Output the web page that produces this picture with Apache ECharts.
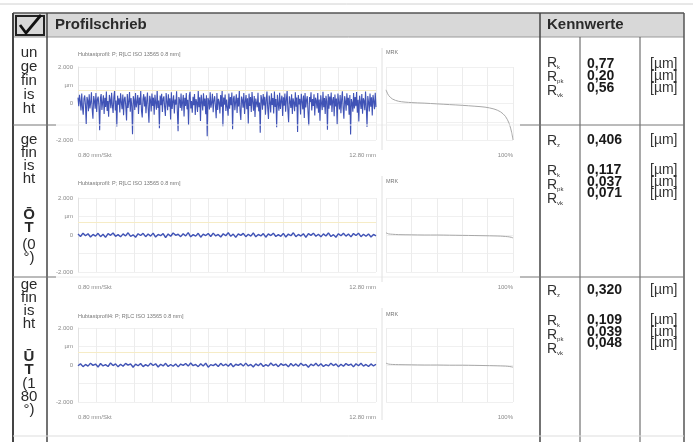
<!DOCTYPE html>
<html><head><meta charset="utf-8">
<script src="https://cdn.jsdelivr.net/npm/echarts@6/dist/echarts.min.js"></script>
<style>html,body{margin:0;padding:0;background:#fff}#c{width:693px;height:442px}</style>
</head><body><div id="c"></div>
<script>
// ---------------- DATA ----------------
const headerLeft = 'Profilschrieb';
const headerRight = 'Kennwerte';
const profileTitles = [
  'Hubtastprofil: P; R[LC ISO 13565 0.8 mm]',
  'Hubtastprofil: P; R[LC ISO 13565 0.8 mm]',
  'Hubtastprofil4: P; R[LC ISO 13565 0.8 mm]'
];
const mrkTitle = 'MRK';
const xStartLabel = '0.80 mm/Skt';
const xEndLabel = '12.80 mm';
const profileLengthMm = 12.8;
const xDivisionMm = 0.8;
const mrkEndLabel = '100%';
const yTickValues = [-2, -1, 0, 1, 2];
const yTickLabels = ['-2.000', '', '0', 'µm', '2.000'];
const refLineValue = 0.7;

const rowLabels1 = ['un', 'ge', 'fin', 'is', 'ht'];
const rowLabels2 = ['ge', 'fin', 'is', 'ht', 'Ō', 'T', '(0', '°)'];
const rowLabels3 = ['ge', 'fin', 'is', 'ht', 'Ū', 'T', '(1', '80', '°)'];

const kwNames1 = ['k', 'pk', 'vk'];
const kwValues1 = ['0,77', '0,20', '0,56'];
const kwNames2 = ['z', 'k', 'pk', 'vk'];
const kwValues2 = ['0,406', '0,117', '0,037', '0,071'];
const kwNames3 = ['z', 'k', 'pk', 'vk'];
const kwValues3 = ['0,320', '0,109', '0,039', '0,048'];
const kwUnit = '[µm]';

const profile1 = [
0.32,-0.15,0.48,0.12,-0.38,0.55,-0.22,-0.61,0.27,0.44,-0.09,-1.12,0.36,0.18,-0.42,0.51,-0.27,0.06,0.62,-0.33,
-0.84,0.41,0.15,-0.29,0.57,-0.46,0.23,0.38,-0.14,-1.47,0.29,0.52,-0.36,0.08,0.45,-0.58,0.31,-0.19,0.66,-0.41,
0.13,-0.73,0.47,0.21,-0.26,0.59,-0.11,-0.52,0.34,0.71,-0.38,0.16,-1.26,0.43,-0.07,0.28,-0.49,0.56,0.09,-0.31,
0.49,-0.64,0.25,0.37,-0.18,-0.93,0.52,-0.24,0.11,0.63,-0.45,0.3,-0.12,-1.68,0.4,0.19,-0.35,0.58,-0.21,0.07,
0.46,-0.57,0.33,-0.08,0.69,-0.4,-0.77,0.24,0.51,-0.16,0.38,-0.53,0.14,0.6,-0.29,-1.05,0.42,0.2,-0.44,0.55,
-0.13,0.32,-0.62,0.48,0.05,-0.34,0.74,-0.25,0.17,-1.35,0.44,-0.1,0.53,-0.47,0.26,0.39,-0.2,-0.68,0.57,0.12,
-0.37,0.5,-0.17,0.28,-0.88,0.61,-0.3,0.1,0.45,-0.55,0.22,-0.06,0.67,-0.43,-1.52,0.35,0.18,-0.24,0.54,-0.39,
0.08,0.47,-0.71,0.31,-0.14,0.58,-0.32,0.2,-1.18,0.43,0.64,-0.27,0.13,-0.5,0.37,-0.09,0.52,-0.63,0.24,0.06,
-0.46,0.7,-0.2,0.34,-0.96,0.48,0.11,-0.38,0.56,-0.15,0.27,-0.59,0.45,-1.8,0.3,0.16,-0.33,0.62,-0.23,0.04,
0.53,-0.48,0.19,0.4,-0.12,-0.81,0.58,-0.35,0.26,0.07,-0.54,0.47,-0.18,0.68,-1.24,0.33,-0.06,0.49,-0.41,0.22,
0.14,-0.67,0.55,-0.28,0.36,-0.1,0.6,-1.41,0.25,0.42,-0.37,0.09,0.5,-0.52,0.31,-0.16,0.73,-0.44,-0.9,0.38,
0.2,-0.23,0.57,-0.58,0.12,0.46,-0.31,0.29,-1.09,0.54,-0.13,0.35,-0.47,0.63,0.08,-0.39,0.41,-0.74,0.27,0.17,
-0.21,0.59,-0.43,0.05,-1.6,0.46,0.23,-0.34,0.52,-0.11,0.37,-0.62,0.18,0.66,-0.26,-0.85,0.44,0.1,-0.49,0.56,
-0.08,0.3,-0.55,0.65,-0.19,0.24,-1.3,0.48,0.02,-0.4,0.59,-0.3,0.15,0.43,-0.69,0.34,-0.12,0.55,-0.45,0.21,
0.68,-0.36,-1.02,0.39,0.13,-0.25,0.51,-0.57,0.28,0.06,-0.42,0.62,-0.17,0.33,-1.56,0.47,-0.05,0.26,-0.6,0.53,
0.11,-0.32,0.44,-0.79,0.58,-0.22,0.19,0.4,-0.48,-1.2,0.35,0.07,0.61,-0.38,0.25,-0.14,0.5,-0.65,0.32,0.16,
-0.27,0.57,-0.51,0.22,-0.95,0.45,0.03,-0.36,0.64,-0.2,0.3,-0.58,0.42,0.12,-1.44,0.52,-0.29,0.38,-0.11,0.6,
-0.46,0.18,0.35,-0.7,0.49,-0.16,0.27,-1.14,0.55,0.09,-0.33,0.46,-0.53,0.21,0.67,-0.24,-0.83,0.4,0.14,-0.39,
0.56,-0.1,0.31,-0.61,0.47,-1.7,0.24,0.05,-0.45,0.58,-0.27,0.36,-0.15,0.63,-0.5,0.2,-0.98,0.43,0.11,-0.3,
0.52,-0.56,0.29,0.15,-0.37,0.65,-0.23,-1.28,0.41,0.08,-0.44,0.54,-0.18,0.34,-0.66,0.47,0.13,-0.31,0.59,-0.2
];
const profile2 = [
0.05,-0.08,0.1,-0.04,0.07,-0.11,0.03,-0.06,0.09,-0.09,0.04,-0.13,0.08,-0.02,0.11,-0.07,0.02,-0.1,0.06,-0.05,
0.12,-0.08,0.01,-0.12,0.07,-0.03,0.09,-0.09,0.05,-0.06,0.1,-0.11,0.03,-0.04,0.08,-0.14,0.06,-0.07,0.11,-0.02,
0.04,-0.09,0.07,-0.05,0.13,-0.1,0.02,-0.06,0.09,-0.12,0.05,-0.03,0.08,-0.08,0.1,-0.05,0.03,-0.11,0.07,-0.04,
0.12,-0.07,0.05,-0.13,0.06,-0.02,0.09,-0.09,0.04,-0.06,0.11,-0.1,0.03,-0.05,0.08,-0.12,0.06,-0.03,0.1,-0.08,
0.02,-0.07,0.09,-0.11,0.05,-0.04,0.12,-0.09,0.03,-0.06,0.07,-0.13,0.08,-0.02,0.1,-0.07,0.04,-0.1,0.06,-0.05,
0.11,-0.08,0.02,-0.12,0.07,-0.04,0.09,-0.06,0.05,-0.1,0.08,-0.03,0.1,-0.09,0.04,-0.07,0.06,-0.11,0.03,-0.05
];
const profile3 = [
-0.04,0.07,-0.09,0.03,-0.06,0.1,-0.02,0.05,-0.11,0.08,-0.05,0.02,-0.08,0.11,-0.03,0.06,-0.1,0.04,-0.07,0.09,
-0.01,0.06,-0.12,0.05,-0.04,0.08,-0.09,0.02,-0.06,0.1,-0.03,0.07,-0.11,0.04,-0.05,0.09,-0.08,0.03,-0.07,0.06,
-0.1,0.05,-0.02,0.08,-0.06,0.11,-0.04,0.03,-0.09,0.07,-0.05,0.1,-0.12,0.02,-0.03,0.06,-0.08,0.09,-0.04,0.05,
-0.07,0.08,-0.1,0.04,-0.02,0.07,-0.06,0.1,-0.05,0.03,-0.11,0.06,-0.04,0.09,-0.08,0.02,-0.06,0.11,-0.03,0.05,
-0.09,0.07,-0.02,0.04,-0.1,0.08,-0.05,0.06,-0.07,0.1,-0.03,0.03,-0.12,0.05,-0.04,0.09,-0.06,0.07,-0.08,0.02,
-0.05,0.1,-0.03,0.06,-0.09,0.04,-0.07,0.08,-0.02,0.05,-0.1,0.07,-0.04,0.09,-0.06,0.03,-0.08,0.06,-0.05,0.04
];
const mrkPct = [0, 2, 5, 10, 20, 30, 40, 50, 60, 70, 78, 85, 90, 94, 97, 99, 100];
const mrk1 = [0.75, 0.45, 0.25, 0.12, 0.05, 0.02, -0.02, -0.06, -0.1, -0.15, -0.2, -0.3, -0.45, -0.7, -1.1, -1.6, -2.0];
const mrk2 = [0.12, 0.06, 0.04, 0.02, 0.01, 0, 0, -0.01, -0.02, -0.03, -0.04, -0.05, -0.06, -0.08, -0.1, -0.13, -0.16];
const mrk3 = [0.1, 0.05, 0.03, 0.02, 0.01, 0, 0, -0.01, -0.01, -0.02, -0.03, -0.04, -0.05, -0.06, -0.08, -0.1, -0.12];

// ---------------- LAYOUT ----------------
const FONT = '"Liberation Sans", Arial, sans-serif';
const profiles = [profile1, profile2, profile3];
const mrks = [mrk1, mrk2, mrk3];
const rowGrid = [ {top: 67, bottom: 140}, {top: 198, bottom: 272}, {top: 328, bottom: 402} ];
const rowTitleTop = [51, 180, 313];
const profLeft = 78, profRight = 376, mrkLeft = 386, mrkRight = 513;

const grids = [], xAxes = [], yAxes = [], series = [], titles = [];
const lab = {fontSize: 6, color: '#8a8a8a', fontFamily: FONT};

rowGrid.forEach((g, r) => {
  grids.push({left: profLeft, top: g.top, width: profRight - profLeft, height: g.bottom - g.top, outerBoundsMode: 'none'});
  grids.push({left: mrkLeft, top: g.top, width: mrkRight - mrkLeft, height: g.bottom - g.top, outerBoundsMode: 'none'});
  const gi = r * 2;
  xAxes.push({
    gridIndex: gi, type: 'value', min: 0, max: profileLengthMm, interval: xDivisionMm,
    axisLine: {show: false}, axisTick: {show: false},
    splitLine: {show: true, lineStyle: {color: '#ececec', width: 1}},
    axisLabel: Object.assign({}, lab, {margin: 12, showMinLabel: true, showMaxLabel: true,
      alignMinLabel: 'left', alignMaxLabel: 'right',
      formatter: v => v === 0 ? xStartLabel : (Math.abs(v - profileLengthMm) < 1e-6 ? xEndLabel : '')})
  });
  xAxes.push({
    gridIndex: gi + 1, type: 'value', min: 0, max: 100, interval: 20,
    axisLine: {show: false}, axisTick: {show: false},
    splitLine: {show: true, lineStyle: {color: '#ececec', width: 1}},
    axisLabel: Object.assign({}, lab, {margin: 12, showMaxLabel: true, alignMaxLabel: 'right',
      formatter: v => v === 100 ? mrkEndLabel : ''})
  });
  yAxes.push({
    gridIndex: gi, type: 'value', min: -2, max: 2, interval: 1,
    axisLine: {show: true, lineStyle: {color: '#e2e2e2'}}, axisTick: {show: false},
    splitLine: {show: true, lineStyle: {color: '#f0f0f0'}},
    axisLabel: Object.assign({}, lab, {margin: 5, formatter: v => yTickLabels[yTickValues.indexOf(v)] || ''})
  });
  yAxes.push({
    gridIndex: gi + 1, type: 'value', min: -2, max: 2, interval: 1,
    axisLine: {show: false}, axisTick: {show: false},
    splitLine: {show: true, lineStyle: {color: '#f0f0f0'}},
    axisLabel: {show: false}
  });
  const prof = profiles[r];
  series.push({
    type: 'line', xAxisIndex: gi, yAxisIndex: gi, showSymbol: false, silent: true, animation: false,
    sampling: false,
    data: prof.map((v, i) => [i * profileLengthMm / (prof.length - 1), v]),
    lineStyle: {color: '#4053b6', width: r === 0 ? 1.1 : 1.4},
    markLine: {silent: true, symbol: 'none', animation: false, label: {show: false},
      lineStyle: {color: '#f6ecc6', type: 'solid', width: 1}, data: [{yAxis: refLineValue}]},
    z: 3
  });
  series.push({
    type: 'line', xAxisIndex: gi + 1, yAxisIndex: gi + 1, showSymbol: false, silent: true, animation: false,
    data: mrkPct.map((p, i) => [p, mrks[r][i]]),
    smooth: 0.3,
    lineStyle: {color: '#a8a8a8', width: 1}
  });
  titles.push({text: profileTitles[r], left: profLeft, top: rowTitleTop[r], padding: 0,
    textStyle: {fontSize: 5.5, color: '#777', fontWeight: 'normal', fontFamily: FONT}});
  titles.push({text: mrkTitle, left: mrkLeft, top: rowTitleTop[r] - 2, padding: 0,
    textStyle: {fontSize: 5.5, color: '#777', fontWeight: 'normal', fontFamily: FONT}});
});

// ---------------- TABLE GRAPHICS ----------------
const G = [];
function line(x1, y1, x2, y2, color, w) {
  G.push({type: 'line', shape: {x1, y1, x2, y2}, style: {stroke: color, lineWidth: w}, silent: true, z: 10});
}
function txt(t, x, y, opts) {
  G.push({type: 'text', x, y, silent: true, z: 11, style: Object.assign({
    text: t, fontSize: 15, fontFamily: FONT, fill: '#2a2a2a', align: 'left', verticalAlign: 'middle'}, opts || {})});
}
G.push({type: 'rect', shape: {x: 13, y: 13, width: 671, height: 24}, style: {fill: '#d8d8d8'}, silent: true, z: 1});
line(0, 4, 693, 4, '#d0d0d0', 1);
line(13, 13, 684, 13, '#555', 1.5);
line(13, 37, 684, 37, '#9a9a9a', 1);
line(13, 13, 13, 442, '#444', 2);
line(47, 13, 47, 442, '#444', 1.5);
line(540, 13, 540, 442, '#444', 1.5);
line(580, 37, 580, 442, '#555', 1);
line(640, 37, 640, 442, '#555', 1);
line(684, 13, 684, 442, '#555', 1.5);
[125, 277].forEach(y => {
  line(13, y, 56, y, '#777', 1);
  line(56, y, 520, y, '#eeeeee', 1);
  line(520, y, 684, y, '#777', 1);
});
line(13, 436, 684, 436, '#dddddd', 1);
[[48, 150], [176, 282], [308, 420]].forEach(s => line(382, s[0], 382, s[1], '#e0e0e0', 1));
G.push({type: 'rect', shape: {x: 16, y: 16, width: 28, height: 19}, style: {fill: 'none', stroke: '#222', lineWidth: 2}, silent: true, z: 11});
G.push({type: 'polyline', shape: {points: [[20, 25], [26, 33], [41, 15]]}, style: {fill: 'none', stroke: '#111', lineWidth: 2.8}, silent: true, z: 12});
txt(headerLeft, 55, 25, {fontWeight: 'bold'});
txt(headerRight, 547, 25, {fontWeight: 'bold'});
const rowLabelY = [
  [53, 67, 81, 95, 109],
  [140, 153, 166, 179, 215, 228, 245, 258],
  [285, 298, 311, 324, 357, 370, 384, 397, 410]
];
[rowLabels1, rowLabels2, rowLabels3].forEach((labels, r) => {
  labels.forEach((t, i) => txt(t, 29, rowLabelY[r][i], {align: 'center', fontWeight: (r > 0 && (i === 4 || i === 5)) ? 'bold' : 'normal'}));
});
const kwNameY = [[62, 76, 90], [140, 170, 184, 198], [290, 320, 334, 348]];
const kwValY = [[64, 76, 88], [140, 170, 182, 193], [290, 320, 332, 343]];
const rich = {r: {fontSize: 14, fontFamily: FONT, fill: '#333'}, s: {fontSize: 6, fontFamily: FONT, fill: '#333', verticalAlign: 'bottom'}};
[[kwNames1, kwValues1], [kwNames2, kwValues2], [kwNames3, kwValues3]].forEach((kv, r) => {
  kv[0].forEach((n, i) => {
    txt('{r|R}{s|' + n + '}', 547, kwNameY[r][i] + 1, {rich});
    txt(kv[1][i], 587, kwValY[r][i], {fontWeight: 'bold', fill: '#1a1a1a', fontSize: 14});
    txt(kwUnit, 650, kwValY[r][i], {fill: '#333', fontSize: 14});
  });
});

const chart = echarts.init(document.getElementById('c'), null, {renderer: 'canvas'});
chart.setOption({
  animation: false,
  backgroundColor: '#ffffff',
  title: titles,
  grid: grids,
  xAxis: xAxes,
  yAxis: yAxes,
  series: series,
  graphic: {elements: G}
});
</script>
</body></html>
